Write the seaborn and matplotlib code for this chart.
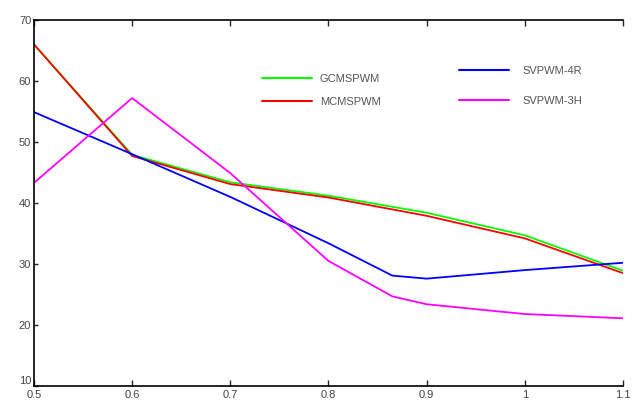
import numpy as np
import pandas as pd
import seaborn as sns
import matplotlib
matplotlib.use("Agg")
import matplotlib.pyplot as plt

# values
x_gc = [0.5, 0.6, 0.7, 0.8, 0.9, 1.0, 1.1]
gcmspwm = [66.0, 47.9, 43.4, 41.2, 38.4, 34.7, 28.9]
mcmspwm = [66.0, 47.7, 43.1, 40.9, 37.9, 34.2, 28.5]

x_4r = [0.5, 0.6, 0.7, 0.8, 0.865, 0.9, 1.0, 1.1]
svpwm_4r = [54.9, 48.0, 41.0, 33.4, 28.1, 27.6, 29.0, 30.2]

x_3h = [0.5, 0.6, 0.7, 0.8, 0.865, 0.9, 1.0, 1.1]
svpwm_3h = [43.3, 57.2, 44.9, 30.5, 24.7, 23.4, 21.8, 21.1]

labels = ["GCMSPWM", "MCMSPWM", "SVPWM-4R", "SVPWM-3H"]
colors = ["#00ff00", "#ff0000", "#0000ff", "#ff00ff"]

frames = []
for name, xs, ys in [("GCMSPWM", x_gc, gcmspwm), ("MCMSPWM", x_gc, mcmspwm),
                     ("SVPWM-4R", x_4r, svpwm_4r), ("SVPWM-3H", x_3h, svpwm_3h)]:
    frames.append(pd.DataFrame({"x": xs, "y": ys, "series": name}))
df = pd.concat(frames, ignore_index=True)

sns.set_style("white")
plt.rcParams['font.family'] = ['Liberation Sans', 'DejaVu Sans']

fig = plt.figure(figsize=(6.34, 4.0), dpi=100)
ax = fig.add_axes([0.0536, 0.035, 0.9290, 0.915])

sns.lineplot(data=df, x="x", y="y", hue="series", hue_order=labels,
             palette=dict(zip(labels, colors)), linewidth=1.3, ax=ax,
             sort=False, legend=False)

ax.set_xlim(0.5, 1.1)
ax.set_ylim(10, 70)
ax.set_xticks([0.5, 0.6, 0.7, 0.8, 0.9, 1.0, 1.1])
ax.set_xticklabels(["0.5", "0.6", "0.7", "0.8", "0.9", "1", "1.1"])
ax.set_yticks([10, 20, 30, 40, 50, 60, 70])
ax.set_xlabel("")
ax.set_ylabel("")

for s in ["left", "bottom", "top"]:
    ax.spines[s].set_visible(True)
    ax.spines[s].set_color("black")
    ax.spines[s].set_linewidth(1.2)
ax.spines["right"].set_visible(False)

ax.tick_params(axis="x", direction="in", length=4, width=1, top=True, bottom=True,
               labelsize=8, labelcolor="#444444", pad=3)
ax.tick_params(axis="y", direction="in", length=3, width=1, left=True, right=False,
               labelsize=8, labelcolor="#444444", pad=2)
# the bottom "10" sits a little above its tick, clear of "0.5"
ax.get_yticklabels()[0].set_verticalalignment("bottom")

handles = [plt.Line2D([], [], color=c, lw=1.5) for c in colors]

# two legend columns, placed separately like the original
leg1 = ax.legend(handles[:2], labels[:2], frameon=False, loc="upper left",
                 bbox_to_anchor=(0.37, 0.881), fontsize=8, handlelength=4.5,
                 labelspacing=1.2, handletextpad=0.7)
for t in leg1.get_texts():
    t.set_color("#555555")
ax.add_artist(leg1)

leg2 = ax.legend(handles[2:], labels[2:], frameon=False, loc="upper left",
                 bbox_to_anchor=(0.705, 0.903), fontsize=8, handlelength=4.5,
                 labelspacing=1.8, handletextpad=1.2)
for t in leg2.get_texts():
    t.set_color("#555555")

fig.savefig("out.png", dpi=100)
